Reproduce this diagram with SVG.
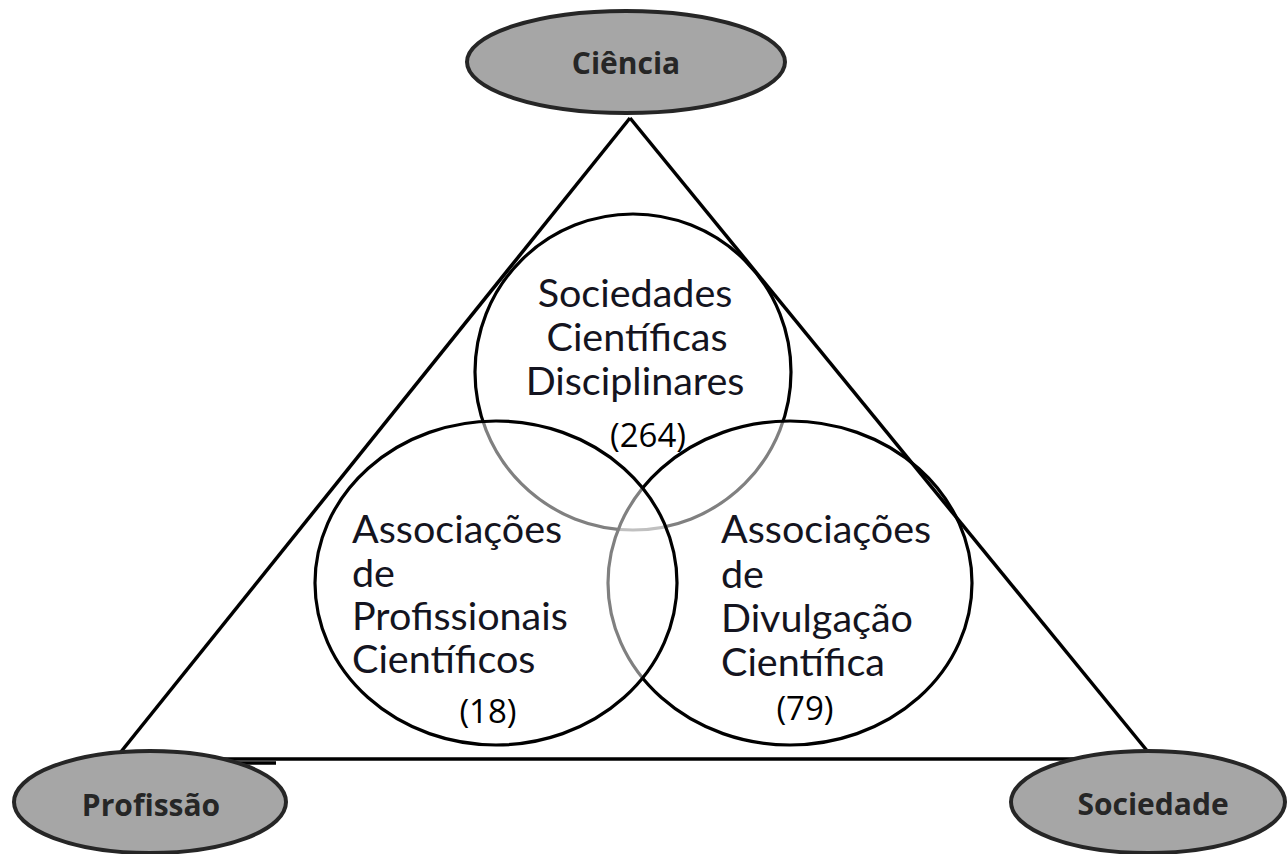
<svg xmlns="http://www.w3.org/2000/svg" width="1287" height="854" viewBox="0 0 1287 854">
<style>
.venn{fill:#fff;fill-opacity:0.5;stroke:#000;stroke-width:3.2}
.pole{fill:#a6a6a6;stroke:#262626;stroke-width:4}
.poleText{font-family:"Open Sans","Liberation Sans",sans-serif;font-weight:bold;font-size:30px;fill:#262626;text-anchor:middle}
.lbl{font-family:Lato,"Liberation Sans",sans-serif;font-size:39.5px;fill:#141420}
.num{font-family:"Open Sans","Liberation Sans",sans-serif;font-size:33px;fill:#000;text-anchor:middle}
.edge{stroke:#000;stroke-width:3.5;fill:none}
</style>
<rect width="1287" height="854" fill="#fff"/>
<g id="circle-sociedades">
<circle class="venn" cx="633" cy="372" r="158"/>
</g>
<g id="circle-divulgacao">
<ellipse class="venn" cx="790" cy="583" rx="182" ry="162"/>
</g>
<g id="circle-profissionais">
<ellipse class="venn" cx="496" cy="583" rx="181" ry="162"/>
</g>
<g id="connectors">
<line class="edge" x1="630" y1="118" x2="116" y2="758"/>
<line class="edge" x1="630" y1="118" x2="1153" y2="758"/>
<line class="edge" x1="116" y1="759" x2="1153" y2="759"/>
<line class="edge" x1="215" y1="763" x2="276" y2="763" stroke-width="3"/>
</g>
<g id="text-sociedades">
<text class="lbl" x="635" y="307" text-anchor="middle">Sociedades</text>
<text class="lbl" x="637" y="351" text-anchor="middle">Científicas</text>
<text class="lbl" x="635" y="395" text-anchor="middle">Disciplinares</text>
<text class="num" x="648" y="447">(264)</text>
</g>
<g id="text-profissionais">
<text class="lbl" x="352" y="543">Associações</text>
<text class="lbl" x="352" y="587">de</text>
<text class="lbl" x="352" y="630">Profissionais</text>
<text class="lbl" x="352" y="673">Científicos</text>
<text class="num" x="488" y="723">(18)</text>
</g>
<g id="text-divulgacao">
<text class="lbl" x="721" y="543">Associações</text>
<text class="lbl" x="721" y="588">de</text>
<text class="lbl" x="721" y="632">Divulgação</text>
<text class="lbl" x="721" y="676">Científica</text>
<text class="num" x="805" y="720">(79)</text>
</g>
<g id="node-ciencia">
<ellipse class="pole" cx="626" cy="62" rx="159" ry="51"/>
<text class="poleText" x="626" y="74">Ciência</text>
</g>
<g id="node-profissao">
<ellipse class="pole" cx="150" cy="802" rx="136" ry="51"/>
<text class="poleText" x="151" y="816">Profissão</text>
</g>
<g id="node-sociedade">
<ellipse class="pole" cx="1148" cy="802" rx="137" ry="51"/>
<text class="poleText" x="1153" y="815">Sociedade</text>
</g>
</svg>
